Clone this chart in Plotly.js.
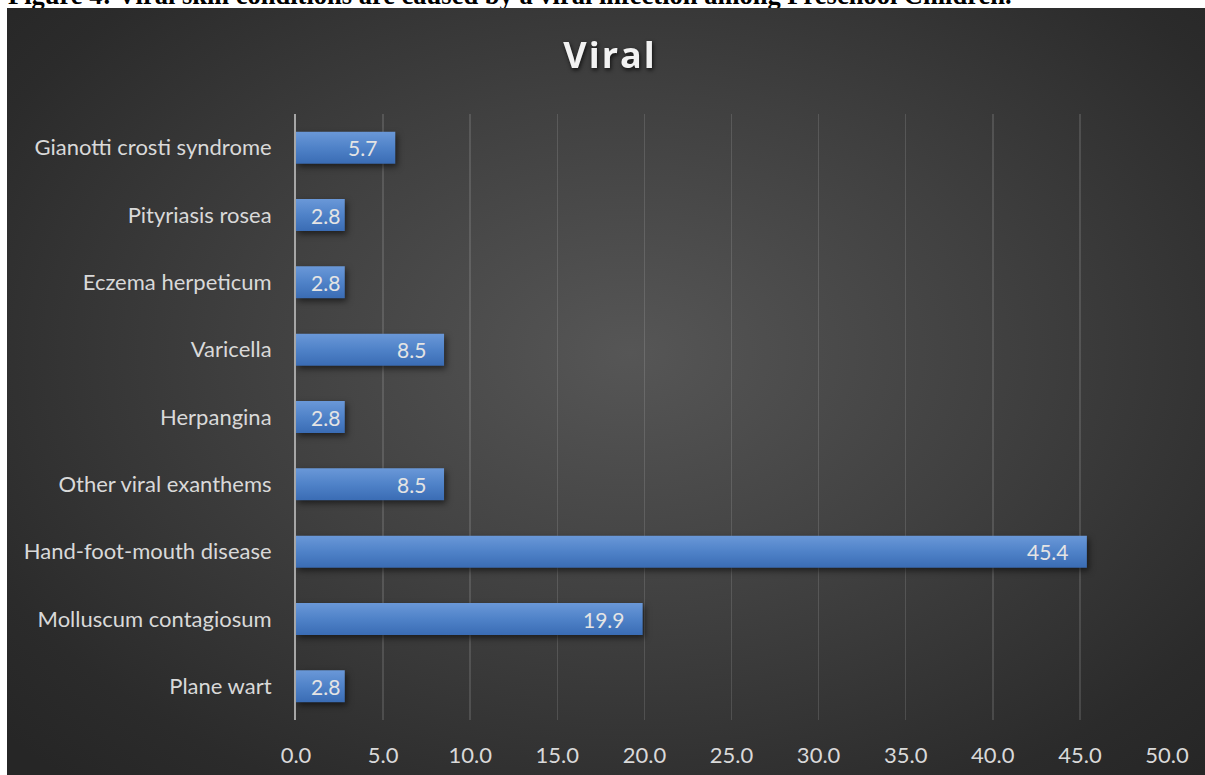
<!DOCTYPE html>
<html>
<head>
<meta charset="utf-8">
<script src="https://cdn.plot.ly/plotly-3.0.1.min.js"></script>
<style>
  html, body { margin:0; padding:0; background:#ffffff; width:1205px; height:775px; overflow:hidden; }
  #caption { position:absolute; left:8px; top:-18px; font-family:"Liberation Serif","Times New Roman",serif; font-weight:bold; font-size:26.5px; line-height:26.5px; color:#000; white-space:nowrap; z-index:1; }
  #chart { position:absolute; left:7px; top:8px; width:1198px; height:767px; z-index:2;
           background: radial-gradient(ellipse 70% 75% at 52% 45%, #565656 0%, #404040 45%, #2b2b2b 85%, #262626 100%); }
  .gtitle { filter: drop-shadow(1px 2px 2px rgba(0,0,0,0.75)); letter-spacing: 2px; }
  .bars .point path { filter: drop-shadow(2px 3px 3px rgba(0,0,0,0.55)); fill: url(#bargrad) !important; }
</style>
</head>
<body>
<div id="caption">Figure 4: Viral skin conditions are caused by a viral infection among Preschool Children.</div>
<div id="chart"></div>
<script>
const categories = [
  "Gianotti crosti syndrome",
  "Pityriasis rosea",
  "Eczema herpeticum",
  "Varicella",
  "Herpangina",
  "Other viral exanthems",
  "Hand-foot-mouth disease",
  "Molluscum contagiosum",
  "Plane wart"
];
const values = [5.7, 2.8, 2.8, 8.5, 2.8, 8.5, 45.4, 19.9, 2.8];
const xTickVals = [0, 5, 10, 15, 20, 25, 30, 35, 40, 45, 50];
const xTickText = ["0.0","5.0","10.0","15.0","20.0","25.0","30.0","35.0","40.0","45.0","50.0"];
const chartTitle = "Viral";

const labelFont = {family: "Lato, 'Open Sans', sans-serif", size: 22, color: "#d9d9d9"};

const trace = {
  type: "bar",
  orientation: "h",
  x: values,
  y: categories,
  marker: {color: "#4a7ec4", line: {width: 0}},
  hoverinfo: "none"
};

const annotations = values.map((v, i) => ({
  x: v, y: categories[i], xref: "x", yref: "y",
  text: v.toFixed(1), showarrow: false,
  xanchor: "right", yanchor: "middle",
  xshift: v < 4 ? -3 : -16,
  font: {family: "Lato, 'Open Sans', sans-serif", size: 21, color: "#e4e4e4"}
}));

const layout = {
  width: 1198, height: 767,
  paper_bgcolor: "rgba(0,0,0,0)",
  plot_bgcolor: "rgba(0,0,0,0)",
  margin: {l: 289, r: 38, t: 106, b: 55, pad: 0},
  title: {text: chartTitle, x: 603/1198, xanchor: "center", y: 1 - 47/767, yanchor: "middle",
          font: {family: "'Open Sans', sans-serif", size: 36, color: "#f2f2f2", weight: "bold"}},
  bargap: 0.525,
  showlegend: false,
  xaxis: {
    range: [0, 50], tickvals: xTickVals, ticktext: xTickText,
    showgrid: true, gridcolor: "rgba(255,255,255,0.13)", gridwidth: 1.5,
    zeroline: false, showline: false, ticks: "", ticklabelstandoff: 20,
    tickfont: labelFont, fixedrange: true
  },
  yaxis: {
    autorange: "reversed", type: "category",
    showgrid: false, zeroline: false,
    showline: true, linecolor: "#a6a6a6", linewidth: 2,
    ticks: "", ticklabelstandoff: 18,
    tickfont: labelFont, fixedrange: true
  },
  annotations: annotations
};

Plotly.newPlot("chart", [trace], layout, {displayModeBar: false, staticPlot: true}).then(gd => {
  const svg = gd.querySelector("svg.main-svg");
  const ns = "http://www.w3.org/2000/svg";
  let defs = svg.querySelector("defs");
  if (!defs) { defs = document.createElementNS(ns, "defs"); svg.insertBefore(defs, svg.firstChild); }
  const g = document.createElementNS(ns, "linearGradient");
  g.setAttribute("id", "bargrad");
  g.setAttribute("x1", "0"); g.setAttribute("y1", "0"); g.setAttribute("x2", "0"); g.setAttribute("y2", "1");
  [["0", "#6a98d8"], ["0.5", "#4f82c8"], ["1", "#3a6cb4"]].forEach(([o, c]) => {
    const s = document.createElementNS(ns, "stop");
    s.setAttribute("offset", o); s.setAttribute("stop-color", c);
    g.appendChild(s);
  });
  defs.appendChild(g);
});
</script>
</body>
</html>
